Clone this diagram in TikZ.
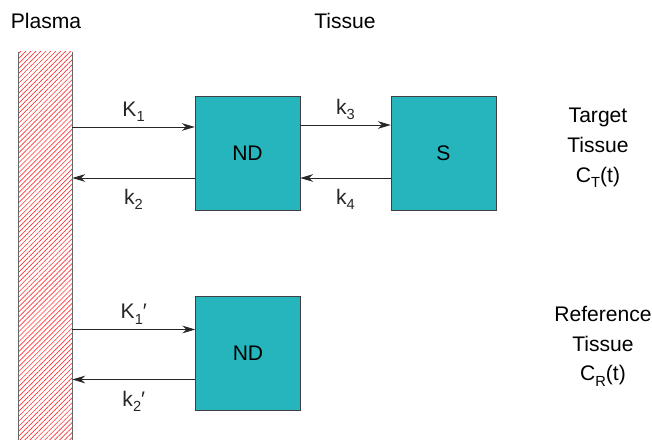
\documentclass[tikz,border=0pt]{standalone}
\usepackage{fontspec}
\setmainfont{Liberation Sans}
\usetikzlibrary{arrows.meta,positioning,calc,patterns.meta}
\definecolor{compteal}{RGB}{39,181,189}
\newcommand{\lowidx}[2]{#1\raisebox{-0.45ex}{\fontsize{12.5}{12.5}\selectfont #2}}

\begin{document}
\begin{tikzpicture}[>={Stealth[length=11pt,width=6.5pt,inset=3.5pt]},font=\fontsize{18}{21}\selectfont,
  comp/.style={draw=black!75,fill=compteal,minimum width=3.15cm,minimum height=3.42cm,inner sep=0pt},
  flux/.style={->,black!85,line width=0.7pt},
  side/.style={align=center,font=\fontsize{18}{25.5}\selectfont}]
\useasboundingbox (0,0) rectangle (19.56,-13.2);
% plasma compartment
\node[pattern={Lines[angle=45,distance=3pt,line width=0.55pt]},pattern color=red!80,
  minimum width=1.59cm,minimum height=11.64cm,inner sep=0pt] (plasma) at (1.365,-7.38) {};
\draw[black!60,line width=0.7pt] (plasma.north west) -- (plasma.south west)
  (plasma.north east) -- (plasma.south east);
\node (plasmalbl) at (1.38,-0.62) {Plasma};
\node (tissuelbl) at (10.35,-0.62) {Tissue};
% tissue compartments
\node[comp] (ND) at (7.425,-4.59) {ND};
\node[comp] (S) at (13.305,-4.59) {S};
\node[comp] (NDr) at (7.44,-10.605) {ND};
% exchange rates
\draw[flux] ([yshift=0.78cm]ND.west -| plasma.east) -- node[above=1pt]{\lowidx{K}{1}} ([yshift=0.78cm]ND.west);
\draw[flux] ([yshift=-0.75cm]ND.west) -- node[below=6pt]{\lowidx{k}{2}} ([yshift=-0.75cm]ND.west -| plasma.east);
\draw[flux] ([yshift=0.84cm]ND.east) -- node[above=1pt]{\lowidx{k}{3}} ([yshift=0.84cm]S.west);
\draw[flux] ([yshift=-0.75cm]S.west) -- node[below=6pt]{\lowidx{k}{4}} ([yshift=-0.75cm]ND.east);
\draw[flux] ([yshift=0.72cm]NDr.west -| plasma.east) -- node[above=1pt]{\lowidx{K}{1}′} ([yshift=0.72cm]NDr.west);
\draw[flux] ([yshift=-0.78cm]NDr.west) -- node[below=6pt]{\lowidx{k}{2}′} ([yshift=-0.78cm]NDr.west -| plasma.east);
% regions
\node[side] (target) at (17.94,-4.44) {Target\\Tissue\\\lowidx{C}{T}(t)};
\node[side] (reference) at (18.09,-10.38) {Reference\\Tissue\\\lowidx{C}{R}(t)};
\end{tikzpicture}
\end{document}
